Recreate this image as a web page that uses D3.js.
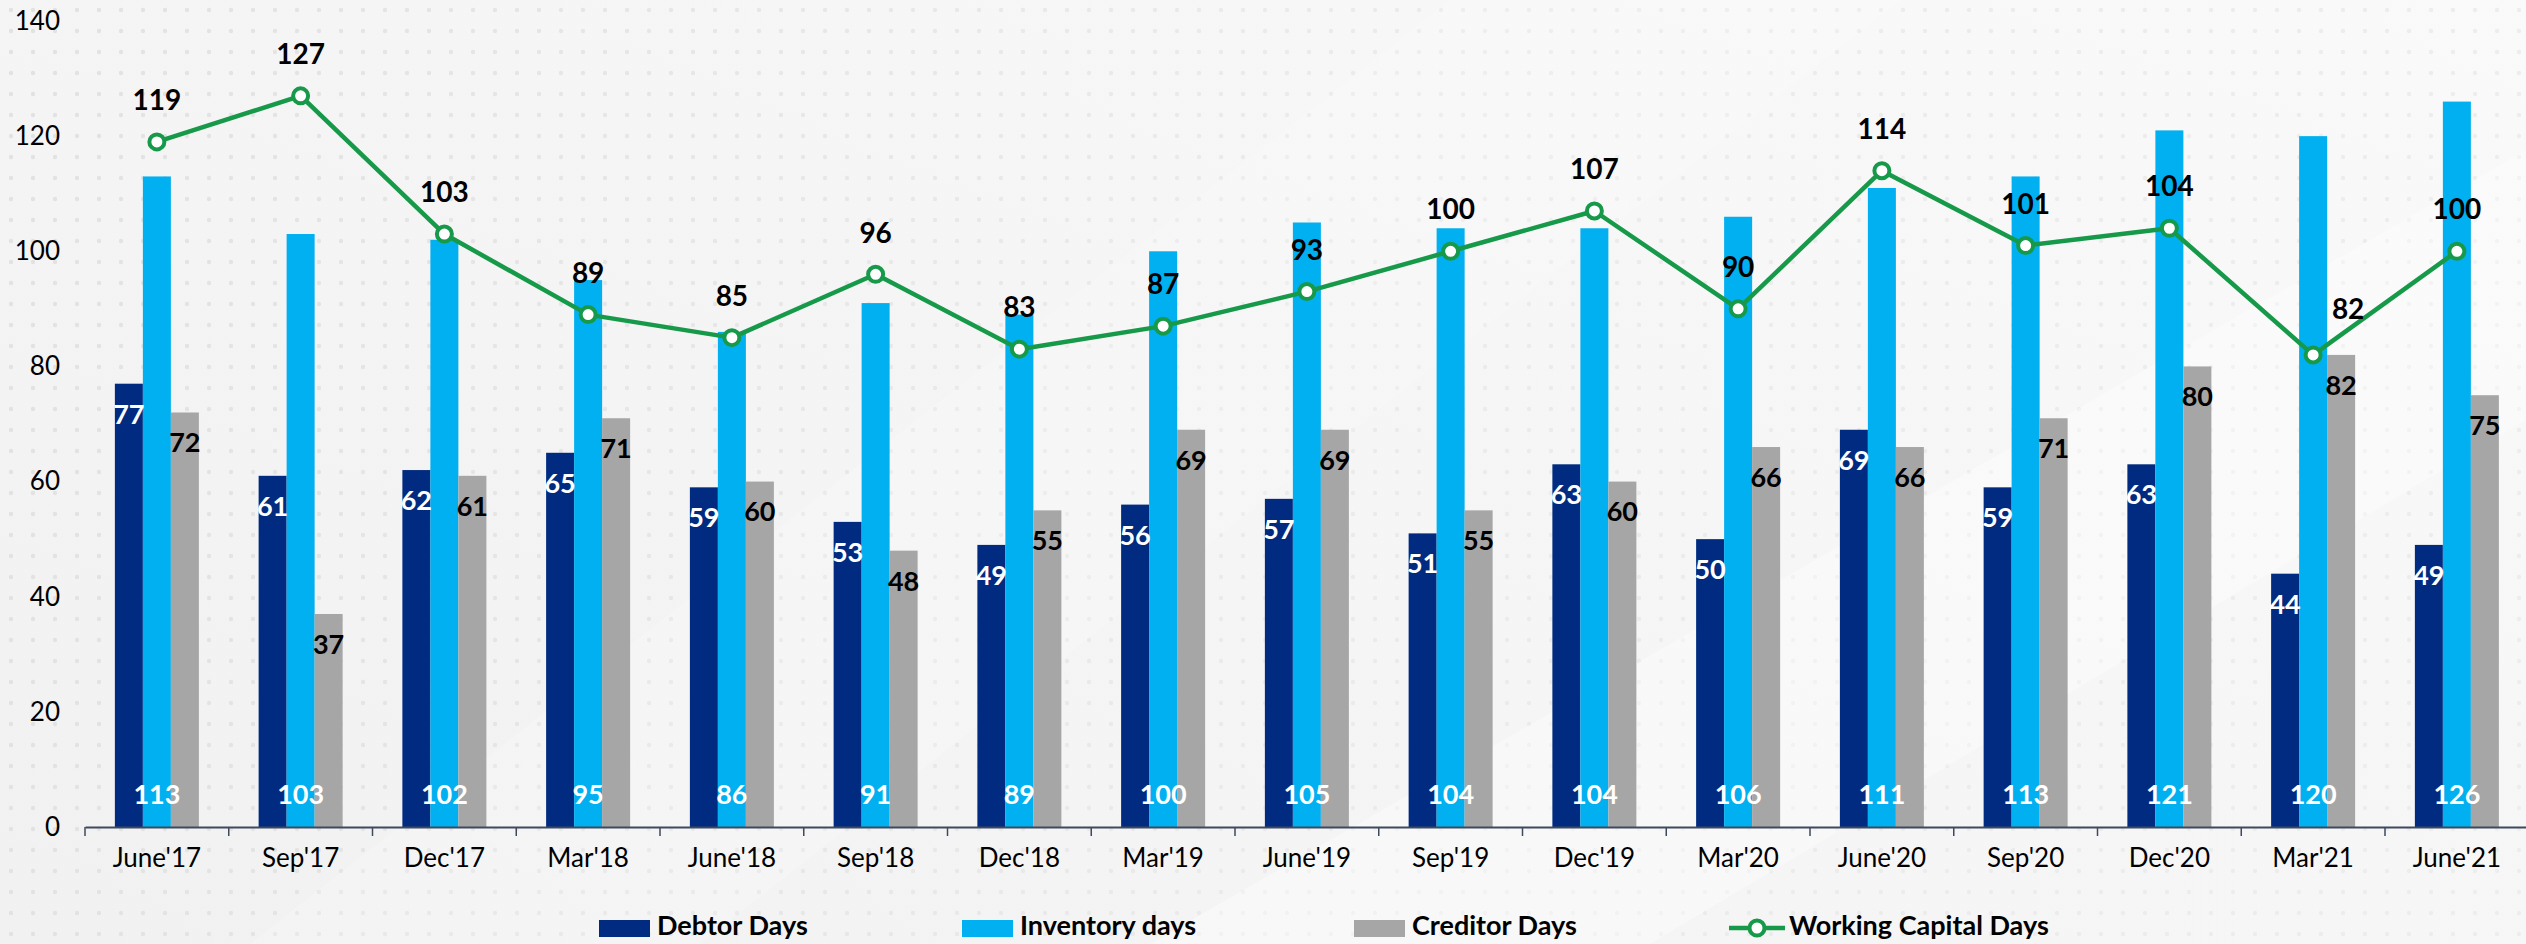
<!DOCTYPE html>
<html>
<head>
<meta charset="utf-8">
<script src="https://cdn.jsdelivr.net/npm/d3@7"></script>
<style>
	html, body { margin: 0; padding: 0; background: #f3f3f3; }
	svg { display: block; }
	text { font-family: Lato, "Liberation Sans", sans-serif; }
</style>
</head>
<body>
<svg id="chart" width="2526" height="944"></svg>
<script>
// chart data
let quarters	= ["June'17", "Sep'17", "Dec'17", "Mar'18", "June'18", "Sep'18", "Dec'18", "Mar'19", "June'19", "Sep'19", "Dec'19", "Mar'20", "June'20", "Sep'20", "Dec'20", "Mar'21", "June'21"];
let debtorDays		= [77, 61, 62, 65, 59, 53, 49, 56, 57, 51, 63, 50, 69, 59, 63, 44, 49];
let inventoryDays	= [113, 103, 102, 95, 86, 91, 89, 100, 105, 104, 104, 106, 111, 113, 121, 120, 126];
let creditorDays	= [72, 37, 61, 71, 60, 48, 55, 69, 69, 55, 60, 66, 66, 71, 80, 82, 75];
let workingCapital	= [119, 127, 103, 89, 85, 96, 83, 87, 93, 100, 107, 90, 114, 101, 104, 82, 100];
let yTicks		= [0, 20, 40, 60, 80, 100, 120, 140];
let seriesNames	= ['Debtor Days', 'Inventory days', 'Creditor Days', 'Working Capital Days'];

let colors	= { debtor: '#002b80', inventory: '#00b0f0', creditor: '#a6a6a6', wc: '#17994a' };

let svg		= d3.select('#chart');
let width	= 2526, height = 944;

// background: light grey with faint dot grid and soft diagonal light
let defs	= svg.append('defs');
let dots	= defs.append('pattern').attr('id', 'dots').attr('width', 22).attr('height', 21).attr('patternUnits', 'userSpaceOnUse');
dots.append('circle').attr('cx', 11).attr('cy', 10).attr('r', 2.2).style('fill', '#e2e2e2');

let glow	= defs.append('linearGradient').attr('id', 'glow').attr('x1', '0').attr('y1', '1').attr('x2', '1').attr('y2', '0');
glow.append('stop').attr('offset', '0').style('stop-color', '#f1f1f1');
glow.append('stop').attr('offset', '0.55').style('stop-color', '#f5f5f5');
glow.append('stop').attr('offset', '1').style('stop-color', '#fbfbfb');

let fade	= defs.append('linearGradient').attr('id', 'fade').attr('x1', '0').attr('y1', '0').attr('x2', '1').attr('y2', '0');
fade.append('stop').attr('offset', '0').style('stop-color', '#f3f3f3').style('stop-opacity', 0);
fade.append('stop').attr('offset', '0.5').style('stop-color', '#f6f6f6').style('stop-opacity', 0.85);
fade.append('stop').attr('offset', '1').style('stop-color', '#f8f8f8').style('stop-opacity', 1);

svg.append('rect').attr('width', width).attr('height', height).style('fill', 'url(#glow)');
svg.append('rect').attr('width', width).attr('height', height).style('fill', 'url(#dots)');
svg.append('rect').attr('width', width).attr('height', height).style('fill', 'url(#fade)').style('opacity', 0.5);
svg.append('polygon').attr('points', '1150,944 2526,150 2526,420 1650,944').style('fill', '#ffffff').style('opacity', 0.35);
svg.append('polygon').attr('points', '250,944 1450,0 1900,0 700,944').style('fill', '#ffffff').style('opacity', 0.18);

// scales
let x		= d3.scaleBand().domain(quarters).range([85, 85 + 17 * 143.75]).padding(0);
let y		= d3.scaleLinear().domain([0, 140]).range([827, 21]);
let barW	= 28;
let offsets	= { debtor: -1.5 * barW, inventory: -0.5 * barW, creditor: 0.5 * barW };
let cx		= (q) => x(q) + x.bandwidth() / 2;

// y axis labels
let yAxis	= svg.append('g').attr('transform', 'translate(60,0)')
	.call(d3.axisLeft(y).tickValues(yTicks).tickSize(0).tickPadding(0));
yAxis.select('.domain').remove();
yAxis.selectAll('text').style('font-size', '26px').style('fill', '#000').style('font-family', 'Lato, sans-serif');

// bars
let series	= [
	{ key: 'debtor', values: debtorDays },
	{ key: 'inventory', values: inventoryDays },
	{ key: 'creditor', values: creditorDays }
];

let bars	= svg.append('g').attr('id', 'bars');
series.forEach((s) => {
	bars.append('g').attr('class', 'series-' + s.key).selectAll('rect')
		.data(s.values).enter().append('rect')
		.attr('x', (d, i) => cx(quarters[i]) + offsets[s.key])
		.attr('y', (d) => y(d))
		.attr('width', barW)
		.attr('height', (d) => y(0) - y(d))
		.style('fill', colors[s.key]);
});

// x axis, ticks on band boundaries
let xAxis	= svg.append('g').attr('transform', 'translate(0,' + y(0) + ')')
	.call(d3.axisBottom(x).tickSize(0).tickSizeOuter(0).tickPadding(22));
xAxis.select('.domain').style('stroke', '#3c4a5c').style('stroke-width', 2);
xAxis.selectAll('text').style('font-size', '26px').style('fill', '#000').style('font-family', 'Lato, sans-serif');
svg.append('g').selectAll('line').data(quarters.concat(['end'])).enter().append('line')
	.attr('x1', (d) => d == 'end' ? x.range()[1] : x(d))
	.attr('x2', (d) => d == 'end' ? x.range()[1] : x(d))
	.attr('y1', y(0)).attr('y2', y(0) + 9)
	.style('stroke', '#3c4a5c').style('stroke-width', 1.5);

// bar labels
let labels	= svg.append('g').attr('id', 'bar-labels').style('font-weight', 'bold').style('font-size', '27px').attr('text-anchor', 'middle');
labels.selectAll('.lbl-debtor').data(debtorDays).enter().append('text').attr('class', 'lbl-debtor')
	.attr('x', (d, i) => cx(quarters[i]) + offsets.debtor + barW / 2)
	.attr('y', (d) => y(d) + 33).attr('dominant-baseline', 'middle')
	.style('fill', '#fff').text((d) => d);
labels.selectAll('.lbl-inventory').data(inventoryDays).enter().append('text').attr('class', 'lbl-inventory')
	.attr('x', (d, i) => cx(quarters[i]))
	.attr('y', 797).attr('dominant-baseline', 'middle')
	.style('fill', '#fff').text((d) => d);
labels.selectAll('.lbl-creditor').data(creditorDays).enter().append('text').attr('class', 'lbl-creditor')
	.attr('x', (d, i) => cx(quarters[i]) + offsets.creditor + barW / 2)
	.attr('y', (d) => y(d) + 33).attr('dominant-baseline', 'middle')
	.style('fill', '#000').text((d) => d);

// working capital line
let line	= d3.line().x((d, i) => cx(quarters[i])).y((d) => y(d));
svg.append('path').datum(workingCapital).attr('d', line)
	.style('fill', 'none').style('stroke', colors.wc).style('stroke-width', 4.5).style('stroke-linejoin', 'round');
svg.append('g').selectAll('circle').data(workingCapital).enter().append('circle')
	.attr('cx', (d, i) => cx(quarters[i])).attr('cy', (d) => y(d)).attr('r', 7.5)
	.style('fill', '#fff').style('stroke', colors.wc).style('stroke-width', 4);
svg.append('g').style('font-weight', 'bold').style('font-size', '28px').attr('text-anchor', 'middle')
	.selectAll('text').data(workingCapital).enter().append('text')
	.attr('x', (d, i) => cx(quarters[i]) + (quarters[i] == "Mar'21" ? 35 : 0))
	.attr('y', (d, i) => y(d) - (quarters[i] == "Mar'21" ? 43 : 39)).attr('dominant-baseline', 'middle')
	.style('fill', '#000').text((d) => d);

// legend
let legend	= svg.append('g').attr('id', 'legend').style('font-weight', 'bold').style('font-size', '27px');
let legendX	= [599, 962, 1354, 1729];
let legendKeys	= ['debtor', 'inventory', 'creditor', 'wc'];
legendKeys.forEach((k, i) => {
	let g	= legend.append('g').attr('transform', 'translate(' + legendX[i] + ',928)');
	if (k == 'wc') {
		g.append('line').attr('x1', 0).attr('x2', 56).attr('y1', 0).attr('y2', 0).style('stroke', colors.wc).style('stroke-width', 4.5);
		g.append('circle').attr('cx', 28).attr('cy', 0).attr('r', 7.5).style('fill', '#fff').style('stroke', colors.wc).style('stroke-width', 4);
		g.append('text').attr('x', 60).attr('y', 0).attr('dominant-baseline', 'middle').text(seriesNames[i]);
	} else {
		g.append('rect').attr('x', 0).attr('y', -8).attr('width', 51).attr('height', 17).style('fill', colors[k]);
		g.append('text').attr('x', 58).attr('y', 0).attr('dominant-baseline', 'middle').text(seriesNames[i]);
	}
});
</script>
</body>
</html>
